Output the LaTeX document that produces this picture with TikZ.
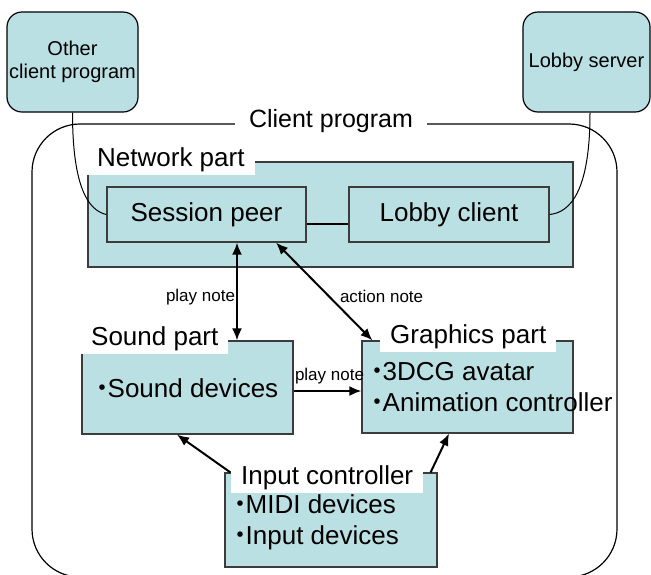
\documentclass[tikz,border=0pt]{standalone}
\usepackage{fontspec}
\setmainfont{Liberation Sans}
\newfontfamily\cjk[RawFeature=+palt]{Noto Sans CJK JP}
\usetikzlibrary{arrows.meta}
\definecolor{boxteal}{RGB}{187,224,227}
\definecolor{boxline}{RGB}{60,60,60}
\newcommand\dotmark{{\cjk ・}\kern-1.5pt}

\begin{document}
\begin{tikzpicture}[x=1pt,y=-1pt]
\tikzset{farbox/.style={draw, fill=boxteal, rounded corners=15pt, line width=1.2pt, inner sep=1pt, align=center, font=\fontsize{20}{23}\selectfont},
partbox/.style={draw=boxline, fill=boxteal, line width=1.2pt, inner sep=0pt},
partlabel/.style={fill=white, anchor=west, inner xsep=10pt, inner ysep=0pt, minimum height=30pt, font=\fontsize{26}{30}\selectfont},
itemtext/.style={anchor=west, align=left, inner sep=0pt, font=\fontsize{26}{31}\selectfont},
notetext/.style={inner sep=1pt, font=\fontsize{17}{20}\selectfont},
biarrow/.style={{Latex[length=12pt,width=10pt]}-{Latex[length=12pt,width=10pt]}, line width=2pt},
onearrow/.style={-{Latex[length=12pt,width=10pt]}, line width=2pt}}
\useasboundingbox (0,0) rectangle (651,574);
\node[draw, line width=1.2pt, rounded corners=48pt, minimum width=585pt, minimum height=453pt] (client) at (324.5,350.5) {};
\node[fill=white, inner xsep=14pt, inner ysep=1pt, font=\fontsize{25}{30}\selectfont] (clientlbl) at (331,121) {Client program};
\node[farbox, minimum width=131pt, minimum height=100pt] (other) at (72.5,62) {Other\\client program};
\node[farbox, minimum width=127pt, minimum height=100pt] (lserver) at (586.5,62) {Lobby server};
\node[partbox, minimum width=485pt, minimum height=105pt] (net) at (330.5,214.5) {};
\node[partlabel] (netlbl) at (87,160) {Network part};
\node[partbox, minimum width=199pt, minimum height=55pt, font=\fontsize{26}{30}\selectfont] (peer) at (206.5,214.5) {Session peer};
\node[partbox, minimum width=200pt, minimum height=55pt, font=\fontsize{26}{30}\selectfont] (lclient) at (449,214.5) {Lobby client};
\draw[line width=1.5pt] ([yshift=-9.5pt]peer.east) -- ([yshift=-9.5pt]lclient.west);
\draw[line width=1pt] (other.south) .. controls +(0,75) and +(-18,-4) .. (peer.west);
\draw[line width=1pt] ([xshift=3.5pt]lserver.south) .. controls +(0,80) and +(20,-2) .. (lclient.east);
\node[partbox, minimum width=211pt, minimum height=93pt] (sound) at (187.5,387.5) {};
\node[partbox, minimum width=211pt, minimum height=92pt] (graphics) at (467.5,387) {};
\node[partbox, minimum width=212pt, minimum height=94pt] (input) at (331,520) {};
\node[partlabel] (soundlbl) at (81,339) {Sound part};
\node[partlabel] (graphicslbl) at (380,337) {Graphics part};
\node[partlabel] (inputlbl) at (231,478) {Input controller};
\node[itemtext] (soundtext) at (96,388) {\dotmark Sound devices};
\node[itemtext] (graphicstext) at (371,387.5) {\dotmark 3DCG avatar\\\dotmark Animation controller};
\node[itemtext] (inputtext) at (234,522.5) {\dotmark MIDI devices\\\dotmark Input devices};
\draw[biarrow] ([xshift=30.5pt]peer.south) -- ([xshift=30.5pt]peer.south |- sound.north) node[notetext, pos=0.56, left] {play note};
\draw[biarrow] ([xshift=69.5pt]peer.south) -- ([xshift=11pt]graphics.north west) node[notetext, pos=0.55, right, xshift=9pt] {action note};
\draw[onearrow] ([yshift=-3.5pt]sound.east) -- ([yshift=-3.5pt]sound.east -| graphics.west) node[notetext, midway, above=5pt, xshift=2pt] {play note};
\draw[onearrow] ([xshift=6pt]input.north west) -- ([xshift=-10.5pt]sound.south);
\draw[onearrow] ([xshift=-7pt]input.north east) -- ([xshift=-18.5pt]graphics.south);
\end{tikzpicture}
\end{document}
